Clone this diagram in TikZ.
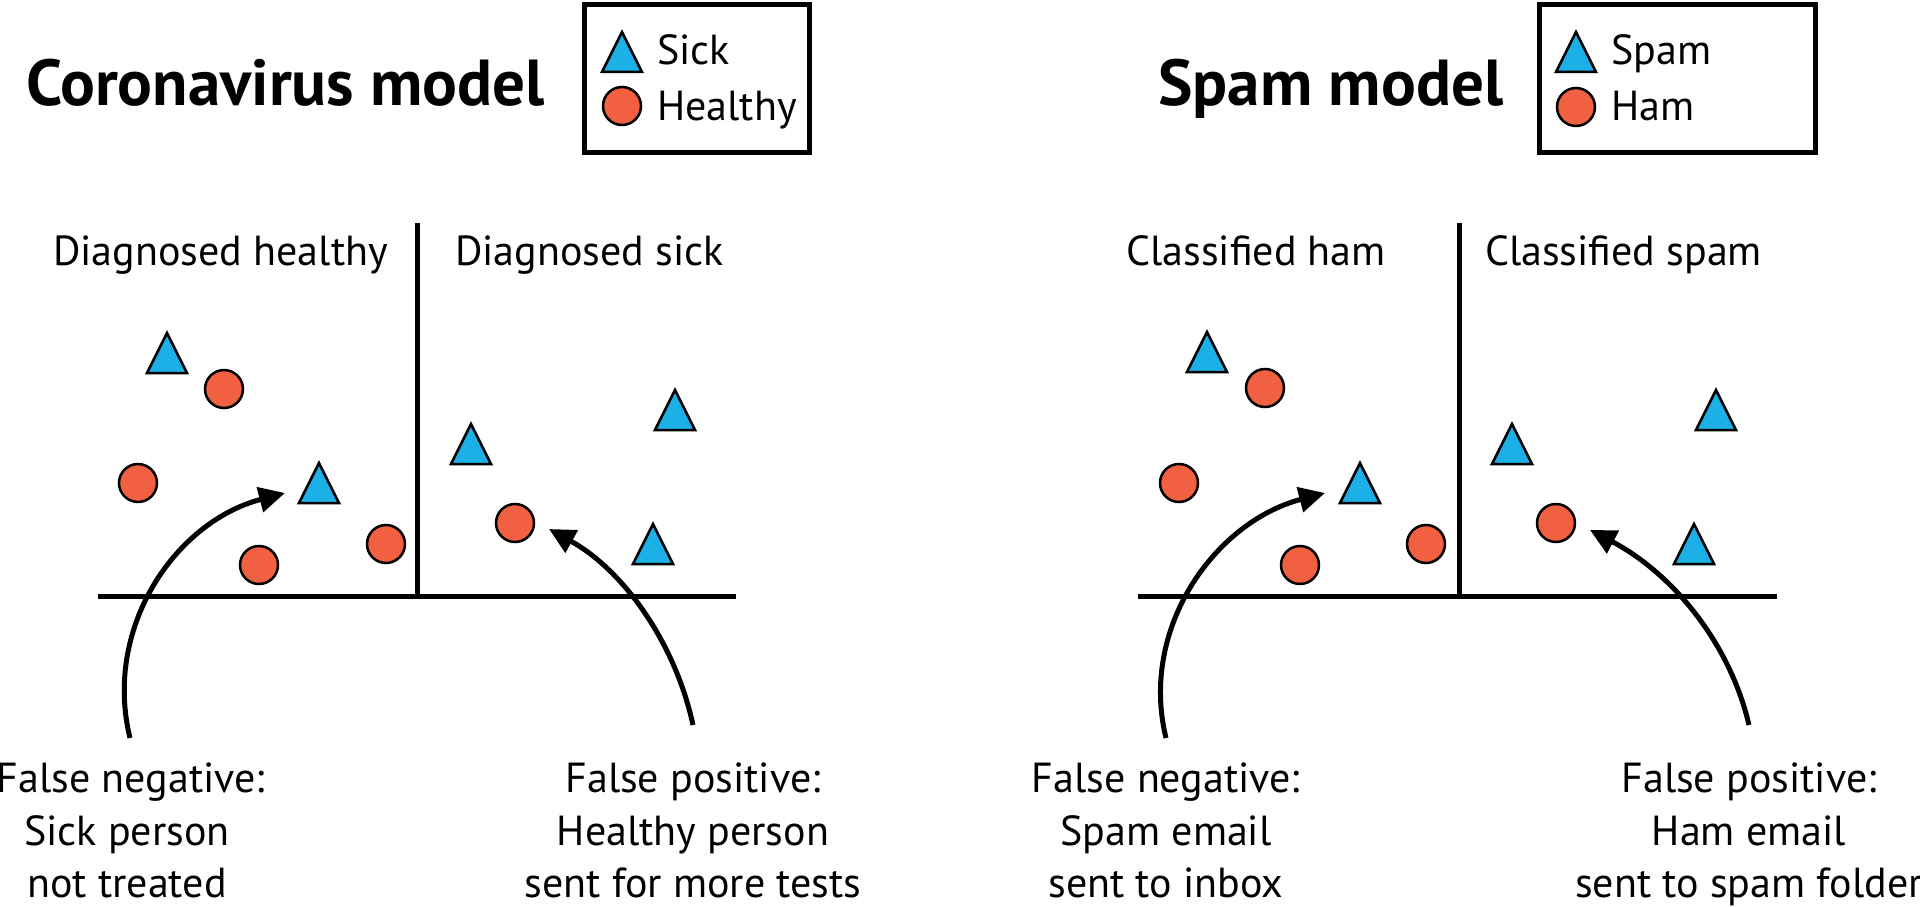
\documentclass[tikz,border=0pt]{standalone}
\usepackage{fontspec}
\setmainfont{PT Sans}
\usetikzlibrary{arrows.meta}
\definecolor{tblue}{RGB}{29,176,230}
\definecolor{corange}{RGB}{241,96,64}
\newcommand\mytri[2]{\filldraw[shp, fill=tblue] (#1-20,#2+40) -- (#1,#2) -- (#1+20,#2+40) -- cycle;}
\newcommand\mycirc[2]{\filldraw[shp, fill=corange] (#1,#2) circle[radius=19];}
\begin{document}
\begin{tikzpicture}[x=1pt,y=-1pt,
  title/.style={font=\fontsize{65}{70}\selectfont\bfseries, inner sep=0pt, anchor=base west},
  txt/.style={font=\fontsize{42}{50}\selectfont, inner sep=0pt},
  axis/.style={line width=5pt},
  box/.style={line width=5pt},
  shp/.style={line width=2.5pt, draw=black, line join=miter},
  arr/.style={line width=5pt, -{Triangle[length=26pt,width=25pt]}},
]
\useasboundingbox (0,0) rectangle (1920,907);

% ---------- Coronavirus panel ----------
\node[title] (t1) at (26,105) {Coronavirus model};
\draw[box] (584.5,4.5) rectangle (809.5,152.5);
\mytri{622}{32}
\mycirc{622}{106}
\node[txt, anchor=base west] (l1a) at (657,65) {Sick};
\node[txt, anchor=base west] (l1b) at (657,121) {Healthy};

\node[txt, anchor=base west] (d1) at (53,265) {Diagnosed healthy};
\node[txt, anchor=base west] (d2) at (455,265) {Diagnosed sick};

\draw[axis] (98,596) -- (736,596);
\draw[axis] (417,223) -- (417,596);

\mytri{167}{333}
\mytri{319}{463}
\mytri{471}{424}
\mytri{675}{390}
\mytri{653}{524}
\mycirc{224}{389}
\mycirc{138}{483}
\mycirc{259}{565}
\mycirc{386}{544}
\mycirc{515}{523}

\node[txt, anchor=base] (fn1a) at (131,792) {False negative:};
\node[txt, anchor=base] (fn1b) at (127,845) {Sick person};
\node[txt, anchor=base] (fn1c) at (127,897) {not treated};
\node[txt, anchor=base] (fp1a) at (693,792) {False positive:};
\node[txt, anchor=base] (fp1b) at (693,845) {Healthy person};
\node[txt, anchor=base] (fp1c) at (693,897) {sent for more tests};

\coordinate (a1s) at (130,738);
\coordinate (a1e) at (285,493);
\coordinate (a2s) at (693,725);
\coordinate (a2e) at (549,529);
\draw[arr] (a1s) .. controls +(-27,-110) and +(-110,29) .. (a1e);
\draw[arr] (a2s) .. controls +(-18,-83) and +(74,41) .. (a2e);

% ---------- Spam panel ----------
\node[title] (t2) at (1158,105) {Spam model};
\draw[box] (1539.5,4.5) rectangle (1815.5,152.5);
\mytri{1576}{32}
\mycirc{1576}{107}
\node[txt, anchor=base west] (l2a) at (1611,65) {Spam};
\node[txt, anchor=base west] (l2b) at (1611,121) {Ham};

\node[txt, anchor=base east] (c1) at (1386,265) {Classified ham};
\node[txt, anchor=base west] (c2) at (1485,265) {Classified spam};

\draw[axis] (1138,596) -- (1777,596);
\draw[axis] (1459,223) -- (1459,596);

\mytri{1207}{332}
\mytri{1360}{463}
\mytri{1512}{424}
\mytri{1716}{390}
\mytri{1694}{524}
\mycirc{1265}{388}
\mycirc{1179}{483}
\mycirc{1300}{565}
\mycirc{1426}{544}
\mycirc{1556}{523}

\node[txt, anchor=base] (fn2a) at (1166,792) {False negative:};
\node[txt, anchor=base] (fn2b) at (1166,845) {Spam email};
\node[txt, anchor=base] (fn2c) at (1166,897) {sent to inbox};
\node[txt, anchor=base] (fp2a) at (1749,792) {False positive:};
\node[txt, anchor=base] (fp2b) at (1749,845) {Ham email};
\node[txt, anchor=base] (fp2c) at (1749,897) {sent to spam folder};

\coordinate (b1s) at (1166,738);
\coordinate (b1e) at (1325,493);
\coordinate (b2s) at (1749,725);
\coordinate (b2e) at (1590,530);
\draw[arr] (b1s) .. controls +(-27,-110) and +(-110,29) .. (b1e);
\draw[arr] (b2s) .. controls +(-20,-85) and +(80,42) .. (b2e);
\end{tikzpicture}
\end{document}
